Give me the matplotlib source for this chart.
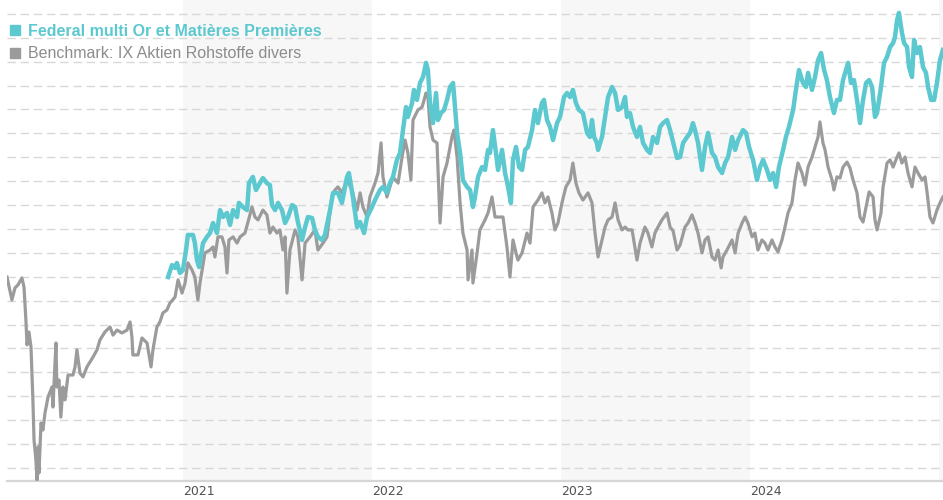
import numpy as np
import matplotlib
matplotlib.use("Agg")
import matplotlib.pyplot as plt
from matplotlib.lines import Line2D

# decimal years / index values
bench_t = [2020.069, 2020.095, 2020.111, 2020.127, 2020.148, 2020.159, 2020.169, 2020.175, 2020.185, 2020.196,
           2020.206, 2020.212, 2020.222, 2020.228, 2020.233, 2020.238, 2020.249, 2020.259, 2020.270, 2020.286,
           2020.307, 2020.312, 2020.328, 2020.333, 2020.344, 2020.354, 2020.365, 2020.376, 2020.392, 2020.418,
           2020.429, 2020.439, 2020.455, 2020.471, 2020.492, 2020.524, 2020.545, 2020.561, 2020.587, 2020.614,
           2020.630, 2020.651, 2020.677, 2020.704, 2020.720, 2020.730, 2020.735, 2020.762, 2020.783, 2020.810,
           2020.831, 2020.841, 2020.862, 2020.878, 2020.894, 2020.915, 2020.931, 2020.958, 2020.974, 2020.995,
           2021.011, 2021.026, 2021.048, 2021.063, 2021.079, 2021.090, 2021.116, 2021.143, 2021.159, 2021.169,
           2021.185, 2021.206, 2021.222, 2021.233, 2021.243, 2021.265, 2021.286, 2021.302, 2021.328, 2021.344,
           2021.365, 2021.381, 2021.397, 2021.423, 2021.444, 2021.460, 2021.476, 2021.497, 2021.513, 2021.529,
           2021.540, 2021.550, 2021.566, 2021.593, 2021.608, 2021.630, 2021.646, 2021.672, 2021.698, 2021.714,
           2021.741, 2021.762, 2021.788, 2021.804, 2021.820, 2021.841, 2021.868, 2021.894, 2021.921, 2021.937,
           2021.952, 2021.974, 2021.989, 2022.016, 2022.032, 2022.048, 2022.058, 2022.079, 2022.095, 2022.111,
           2022.138, 2022.159, 2022.175, 2022.190, 2022.206, 2022.217, 2022.243, 2022.265, 2022.286, 2022.296,
           2022.307, 2022.323, 2022.344, 2022.360, 2022.376, 2022.397, 2022.423, 2022.434, 2022.450, 2022.466,
           2022.481, 2022.503, 2022.508, 2022.529, 2022.534, 2022.556, 2022.571, 2022.598, 2022.614, 2022.635,
           2022.651, 2022.677, 2022.693, 2022.714, 2022.730, 2022.746, 2022.762, 2022.772, 2022.794, 2022.820,
           2022.836, 2022.852, 2022.878, 2022.899, 2022.915, 2022.931, 2022.952, 2022.968, 2022.984, 2023.005,
           2023.026, 2023.048, 2023.063, 2023.079, 2023.095, 2023.116, 2023.143, 2023.164, 2023.180, 2023.196,
           2023.217, 2023.233, 2023.249, 2023.270, 2023.286, 2023.302, 2023.323, 2023.339, 2023.354, 2023.376,
           2023.402, 2023.418, 2023.444, 2023.460, 2023.481, 2023.497, 2023.513, 2023.534, 2023.561, 2023.577,
           2023.593, 2023.614, 2023.630, 2023.656, 2023.672, 2023.693, 2023.709, 2023.725, 2023.746, 2023.762,
           2023.778, 2023.799, 2023.815, 2023.831, 2023.847, 2023.857, 2023.878, 2023.905, 2023.921, 2023.937,
           2023.958, 2023.974, 2023.989, 2024.011, 2024.026, 2024.042, 2024.063, 2024.079, 2024.095, 2024.116,
           2024.132, 2024.148, 2024.169, 2024.185, 2024.201, 2024.222, 2024.238, 2024.254, 2024.275, 2024.291,
           2024.307, 2024.328, 2024.344, 2024.360, 2024.370, 2024.386, 2024.397, 2024.413, 2024.434, 2024.444,
           2024.460, 2024.476, 2024.492, 2024.513, 2024.529, 2024.545, 2024.566, 2024.582, 2024.598, 2024.614,
           2024.630, 2024.651, 2024.661, 2024.672, 2024.693, 2024.704, 2024.725, 2024.741, 2024.757, 2024.778,
           2024.788, 2024.804, 2024.820, 2024.836, 2024.857, 2024.873, 2024.889, 2024.910, 2024.926, 2024.937,
           2024.952, 2024.968, 2024.989, 2025.005, 2025.021]
bench_v = [179.9, 170.3, 175.3, 176.6, 179.5, 175.7, 161.9, 151.5, 156.9, 150.6,
           128.5, 111.7, 103.3, 95.0, 108.8, 97.9, 118.8, 115.9, 123.0, 129.7,
           133.9, 125.5, 152.3, 133.9, 136.8, 121.3, 133.9, 128.5, 138.9, 138.9,
           142.3, 149.4, 139.7, 138.1, 142.3, 146.4, 149.4, 153.6, 156.9, 159.0,
           155.6, 157.7, 156.5, 157.7, 161.1, 154.8, 147.3, 147.3, 154.4, 152.3,
           142.3, 149.4, 159.0, 161.1, 164.9, 166.1, 169.0, 171.5, 178.7, 173.2,
           177.4, 185.8, 182.8, 179.9, 170.3, 177.4, 190.0, 191.2, 192.5, 188.3,
           196.7, 196.7, 192.5, 181.6, 195.4, 196.7, 194.1, 196.7, 198.3, 202.9,
           209.2, 205.0, 203.8, 207.9, 205.9, 198.3, 200.8, 198.3, 199.6, 191.2,
           196.7, 173.2, 191.2, 199.6, 196.7, 178.7, 194.1, 196.7, 199.6, 191.2,
           194.1, 196.7, 213.4, 216.3, 217.6, 215.1, 220.5, 216.3, 207.9, 215.1,
           209.2, 205.0, 213.4, 219.2, 223.4, 236.0, 221.8, 213.4, 217.6, 221.8,
           219.2, 230.1, 237.2, 231.8, 220.5, 245.6, 249.8, 251.0, 256.9, 255.2,
           242.7, 237.2, 236.0, 202.5, 221.8, 227.6, 238.5, 241.4, 230.1, 210.9,
           198.3, 191.2, 178.7, 191.2, 177.4, 190.0, 199.6, 203.8, 206.7, 213.4,
           205.0, 205.0, 205.0, 192.5, 179.9, 195.4, 190.0, 187.0, 190.0, 198.3,
           194.1, 209.2, 212.1, 215.1, 210.9, 213.4, 206.7, 199.6, 202.5, 210.9,
           217.6, 220.5, 227.6, 219.2, 215.1, 212.1, 215.1, 210.9, 198.3, 188.3,
           195.4, 200.8, 203.8, 205.0, 210.9, 203.8, 199.6, 200.8, 199.6, 199.6,
           187.0, 194.1, 200.8, 198.3, 192.5, 198.3, 200.8, 203.8, 206.7, 200.8,
           199.2, 191.2, 193.3, 200.8, 202.5, 205.9, 202.5, 198.3, 190.0, 195.4,
           196.7, 188.3, 187.0, 191.2, 183.7, 188.3, 191.2, 195.4, 190.0, 198.3,
           202.5, 205.0, 202.5, 196.7, 198.3, 191.2, 195.4, 194.1, 191.2, 195.4,
           192.5, 190.4, 195.4, 200.8, 206.7, 210.9, 220.5, 227.6, 223.4, 218.4,
           225.9, 230.1, 234.3, 238.5, 244.8, 236.0, 233.1, 225.9, 220.5, 216.3,
           221.8, 221.3, 225.9, 228.0, 225.5, 220.5, 215.1, 205.0, 202.9, 209.2,
           215.5, 213.4, 203.8, 199.6, 206.7, 217.6, 227.6, 228.9, 225.9, 230.1,
           231.8, 227.6, 230.1, 223.4, 217.6, 225.9, 223.4, 220.5, 221.8, 215.1,
           205.0, 202.5, 207.9, 210.9, 213.4]

fund_t = [2020.921, 2020.942, 2020.958, 2020.968, 2020.984, 2021.000, 2021.016, 2021.026, 2021.053, 2021.063,
          2021.074, 2021.085, 2021.106, 2021.127, 2021.143, 2021.159, 2021.180, 2021.196, 2021.212, 2021.233,
          2021.249, 2021.265, 2021.286, 2021.296, 2021.317, 2021.339, 2021.349, 2021.370, 2021.386, 2021.407,
          2021.423, 2021.444, 2021.460, 2021.471, 2021.487, 2021.503, 2021.524, 2021.540, 2021.556, 2021.577,
          2021.593, 2021.608, 2021.630, 2021.646, 2021.661, 2021.683, 2021.698, 2021.714, 2021.735, 2021.751,
          2021.778, 2021.794, 2021.820, 2021.841, 2021.868, 2021.878, 2021.899, 2021.921, 2021.937, 2021.958,
          2021.974, 2022.000, 2022.016, 2022.042, 2022.058, 2022.079, 2022.095, 2022.111, 2022.132, 2022.148,
          2022.164, 2022.180, 2022.190, 2022.212, 2022.222, 2022.238, 2022.254, 2022.270, 2022.286, 2022.296,
          2022.307, 2022.323, 2022.339, 2022.349, 2022.365, 2022.381, 2022.397, 2022.413, 2022.429, 2022.439,
          2022.450, 2022.466, 2022.481, 2022.503, 2022.519, 2022.534, 2022.545, 2022.561, 2022.582, 2022.598,
          2022.614, 2022.624, 2022.640, 2022.656, 2022.667, 2022.688, 2022.704, 2022.720, 2022.735, 2022.746,
          2022.762, 2022.778, 2022.794, 2022.810, 2022.825, 2022.847, 2022.862, 2022.878, 2022.899, 2022.910,
          2022.926, 2022.942, 2022.958, 2022.979, 2022.995, 2023.016, 2023.032, 2023.048, 2023.063, 2023.079,
          2023.095, 2023.116, 2023.138, 2023.153, 2023.164, 2023.175, 2023.190, 2023.196, 2023.217, 2023.233,
          2023.249, 2023.270, 2023.286, 2023.302, 2023.323, 2023.339, 2023.349, 2023.365, 2023.381, 2023.402,
          2023.418, 2023.434, 2023.455, 2023.471, 2023.487, 2023.508, 2023.524, 2023.540, 2023.561, 2023.577,
          2023.593, 2023.614, 2023.630, 2023.646, 2023.667, 2023.683, 2023.698, 2023.709, 2023.725, 2023.746,
          2023.762, 2023.778, 2023.799, 2023.815, 2023.831, 2023.852, 2023.868, 2023.884, 2023.905, 2023.921,
          2023.937, 2023.963, 2023.979, 2023.995, 2024.016, 2024.037, 2024.053, 2024.069, 2024.090, 2024.106,
          2024.122, 2024.138, 2024.153, 2024.175, 2024.190, 2024.206, 2024.228, 2024.243, 2024.259, 2024.280,
          2024.296, 2024.307, 2024.328, 2024.344, 2024.360, 2024.376, 2024.392, 2024.407, 2024.423, 2024.444,
          2024.460, 2024.476, 2024.492, 2024.513, 2024.519, 2024.534, 2024.550, 2024.566, 2024.582, 2024.598,
          2024.614, 2024.630, 2024.646, 2024.661, 2024.672, 2024.693, 2024.709, 2024.725, 2024.741, 2024.757,
          2024.767, 2024.778, 2024.788, 2024.804, 2024.815, 2024.831, 2024.841, 2024.857, 2024.868, 2024.884,
          2024.899, 2024.915, 2024.931, 2024.942, 2024.958, 2024.974, 2024.989, 2025.005, 2025.021]
fund_v = [179.9, 184.9, 183.7, 185.8, 181.6, 182.8, 191.2, 197.5, 197.5, 194.1,
          187.0, 184.1, 194.1, 196.7, 198.3, 202.5, 198.3, 207.9, 205.0, 206.7,
          201.7, 207.9, 205.0, 210.9, 209.2, 207.9, 219.2, 221.8, 216.3, 219.2,
          221.3, 219.2, 218.4, 210.0, 207.9, 210.9, 207.9, 202.5, 205.0, 210.0,
          209.2, 202.9, 195.4, 200.8, 205.0, 204.6, 199.6, 196.7, 195.4, 197.5,
          207.9, 215.1, 215.1, 210.9, 221.8, 223.4, 213.4, 200.8, 202.9, 198.3,
          205.0, 209.2, 212.1, 216.3, 217.6, 215.1, 219.2, 221.8, 228.9, 231.8,
          241.4, 251.0, 246.9, 252.7, 258.2, 254.0, 261.1, 263.6, 269.5, 266.5,
          252.7, 244.3, 256.9, 245.6, 248.5, 249.8, 254.0, 259.4, 261.1, 251.0,
          240.2, 231.8, 220.5, 217.6, 216.3, 209.2, 213.4, 221.8, 225.9, 224.7,
          233.1, 231.8, 241.4, 231.8, 224.7, 233.1, 223.4, 217.6, 210.9, 228.9,
          234.3, 225.9, 224.7, 233.1, 234.3, 241.4, 249.8, 244.3, 252.7, 254.0,
          245.6, 242.7, 237.2, 244.3, 246.9, 255.2, 256.9, 255.2, 258.2, 252.7,
          249.8, 248.5, 240.2, 238.5, 245.6, 238.5, 236.0, 233.1, 238.5, 246.9,
          255.2, 259.4, 256.9, 249.8, 251.0, 255.2, 246.9, 248.5, 242.7, 238.5,
          242.7, 236.0, 233.1, 231.8, 238.5, 236.0, 242.7, 244.3, 245.6, 241.4,
          236.4, 229.7, 230.1, 236.0, 238.5, 240.2, 244.3, 241.4, 236.0, 224.7,
          234.3, 240.2, 231.8, 230.1, 225.9, 223.4, 227.6, 230.1, 238.5, 233.1,
          237.2, 241.4, 240.2, 234.3, 228.9, 220.5, 225.9, 228.9, 224.7, 220.5,
          223.4, 217.6, 225.9, 233.1, 238.5, 242.7, 249.8, 258.2, 266.5, 261.1,
          259.4, 265.3, 258.2, 263.6, 270.7, 273.6, 266.5, 262.3, 255.2, 248.5,
          254.0, 254.0, 262.3, 267.8, 269.5, 261.1, 262.3, 254.0, 244.3, 254.0,
          261.1, 262.3, 259.4, 246.9, 248.5, 259.4, 269.5, 272.0, 276.1, 277.8,
          280.3, 287.4, 290.4, 282.0, 277.8, 276.1, 267.8, 263.6, 279.1, 273.6,
          276.1, 267.8, 265.3, 259.4, 254.0, 254.0, 261.1, 270.7, 274.9]

years = [2021, 2022, 2023, 2024]
shaded_years = [2021, 2023, 2025]
fund_name = "Federal multi Or et Matières Premières"
bench_name = "Benchmark: IX Aktien Rohstoffe divers"

teal = "#5cc8cf"
grey = "#9b9b9b"

fig = plt.figure(figsize=(9.43, 5.0), dpi=100)
ax = fig.add_axes([7 / 943, 19 / 500, 936 / 943, 481 / 500])

x0, x1 = bench_t[0], bench_t[-1]
ax.set_xlim(x0, x1)
ax.set_ylim(94.56, 295.8)

for y in shaded_years:
    ax.axvspan(y, y + 1, color="#f7f7f7", zorder=0, lw=0)

for g in np.arange(100, 291, 10):
    ax.axhline(g, color="#d8d8d8", lw=1.0, ls=(0, (6, 3.5)), zorder=1)

ax.plot(bench_t, bench_v, color=grey, lw=2.3, zorder=3, solid_joinstyle="round")
ax.plot(fund_t, fund_v, color=teal, lw=3.2, zorder=4, solid_joinstyle="round", clip_on=False)

for s in ["top", "left", "right"]:
    ax.spines[s].set_visible(False)
ax.spines["bottom"].set_color("#d6d6d6")
ax.spines["bottom"].set_linewidth(1.6)
ax.set_yticks([])
ax.set_xticks(years)
ax.set_xticklabels([str(y) for y in years], fontsize=9, color="#505050",
                   family="DejaVu Sans", ha="left")
ax.tick_params(axis="x", length=0, pad=3)

handles = [Line2D([], [], marker="s", ls="none", color=teal, markersize=7.5),
           Line2D([], [], marker="s", ls="none", color=grey, markersize=7.5)]
leg = ax.legend(handles, [fund_name, bench_name], loc="upper left",
                bbox_to_anchor=(-4 / 943, 1 - 11 / 500), bbox_transform=fig.transFigure,
                frameon=False, handlelength=0.8, handletextpad=0.4, labelspacing=0.48,
                borderpad=0.3, prop={"family": "Liberation Sans", "size": 11.5})
t1, t2 = leg.get_texts()
t1.set_color(teal)
t1.set_fontweight("bold")
t2.set_color("#8c8c8c")

fig.savefig("out.png", dpi=100)
